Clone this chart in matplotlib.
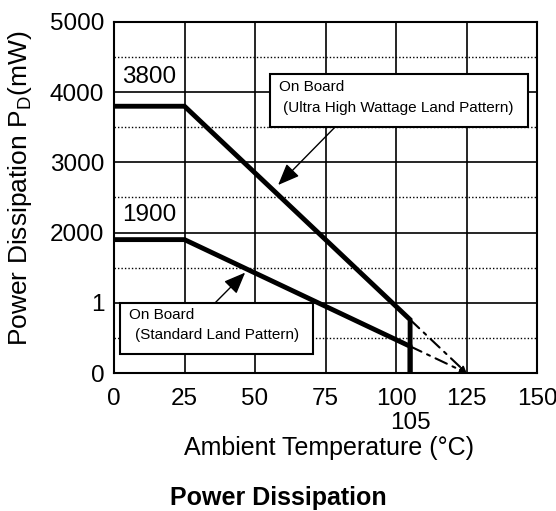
import matplotlib
matplotlib.use("Agg")
import matplotlib.pyplot as plt
from matplotlib.patches import Rectangle

plt.rcParams["font.family"] = ["Liberation Sans", "DejaVu Sans"]

# derating curves (temperature in C, power in mW)
temp_high = [0, 25, 105, 105]
power_high = [3800, 3800, 760, 0]
temp_std = [0, 25, 105, 105]
power_std = [1900, 1900, 380, 0]

# extrapolation to Tj max
ext_temp = [105, 125]
ext_high = [760, 0]
ext_std = [380, 0]

x_ticks = [0, 25, 50, 75, 100, 125, 150]
y_ticks = [0, 1000, 2000, 3000, 4000, 5000]
y_tick_labels = ["0", "1", "2000", "3000", "4000", "5000"]

fig = plt.figure(figsize=(5.56, 5.11), dpi=100)
ax = fig.add_axes([114 / 556, 138 / 511, 423 / 556, 351 / 511])

ax.set_xlim(0, 150)
ax.set_ylim(0, 5000)
ax.set_xticks(x_ticks)
ax.set_yticks(y_ticks)
ax.set_yticklabels(y_tick_labels)
ax.tick_params(length=0, labelsize=17.5)
ax.tick_params(axis="x", pad=11)
ax.tick_params(axis="y", pad=7)

# grid: solid majors, dotted half steps
for x in x_ticks[1:-1]:
    ax.axvline(x, color="black", lw=1.2, zorder=1)
for y in y_ticks[1:-1]:
    ax.axhline(y, color="black", lw=1.2, zorder=1)
for y in [500, 1500, 2500, 3500, 4500]:
    ax.axhline(y, color="black", lw=1.0, ls=(0, (1, 1.5)), zorder=1)
for s in ax.spines.values():
    s.set_linewidth(1.5)

ax.plot(temp_high, power_high, color="black", lw=3.5, solid_joinstyle="miter", zorder=3)
ax.plot(temp_std, power_std, color="black", lw=3.5, solid_joinstyle="miter", zorder=3)

for ys in [ext_high, ext_std]:
    ax.annotate("", xy=(ext_temp[1], ys[1]), xytext=(ext_temp[0], ys[0]),
                arrowprops=dict(arrowstyle="-|>", color="black", lw=1.5,
                                linestyle=(0, (6, 3, 1.5, 3)), mutation_scale=8,
                                shrinkA=0, shrinkB=0), zorder=2)

ax.text(12.4, 4216, "3800", ha="center", va="center", fontsize=17.5)
ax.text(12.4, 2250, "1900", ha="center", va="center", fontsize=17.5)

head = "-|>,head_length=1.1,head_width=0.45"

# callout: ultra high wattage land pattern
ax.add_patch(Rectangle((55.3, 3504), 91.5, 755, fc="white", ec="black", lw=1.5, zorder=4))
ax.text(58.5, 4074, "On Board", fontsize=11, va="center", zorder=5)
ax.text(59.9, 3775, "(Ultra High Wattage Land Pattern)", fontsize=11, va="center", zorder=5)
ax.annotate("", xy=(58.2, 2678), xytext=(78.4, 3504),
            arrowprops=dict(arrowstyle=head, color="black", lw=1.0,
                            mutation_scale=12, shrinkA=0, shrinkB=0), zorder=4)

# callout: standard land pattern
ax.add_patch(Rectangle((2.1, 271), 68.5, 726, fc="white", ec="black", lw=1.5, zorder=4))
ax.text(5.3, 826, "On Board", fontsize=11, va="center", zorder=5)
ax.text(7.4, 541, "(Standard Land Pattern)", fontsize=11, va="center", zorder=5)
ax.annotate("", xy=(46.5, 1430), xytext=(35.8, 997),
            arrowprops=dict(arrowstyle=head, color="black", lw=1.0,
                            mutation_scale=12, shrinkA=0, shrinkB=0), zorder=4)

ax.text(105, -712, "105", ha="center", va="center", fontsize=17.5, clip_on=False)

fig.text(329 / 556, 1 - 448 / 511, "Ambient Temperature (°C)", ha="center", va="center",
         fontsize=18)
fig.text(20 / 556, 1 - 188 / 511, "Power Dissipation P$_\\mathregular{D}$(mW)",
         ha="center", va="center", rotation=90, fontsize=19)
fig.text(0.5, 1 - 498 / 511, "Power Dissipation", ha="center", va="center",
         fontsize=18, fontweight="bold")

fig.savefig("out.png", dpi=100)
